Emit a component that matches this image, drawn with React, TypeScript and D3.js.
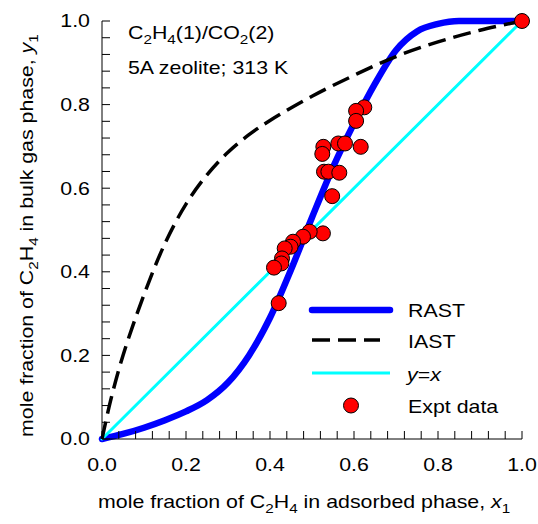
import React from "react";
import * as d3 from "d3";

const rastX = [0, 0.05, 0.1, 0.15, 0.2, 0.25, 0.3, 0.35, 0.4, 0.45, 0.5, 0.55, 0.6, 0.65, 0.7, 0.75, 0.8, 0.85, 0.9, 1];
const rastY = [0, 0.012, 0.027, 0.045, 0.066, 0.093, 0.135, 0.2, 0.29, 0.405, 0.53, 0.65, 0.755, 0.85, 0.93, 0.975, 0.993, 1, 1, 1];

const iastX = [0, 0.02, 0.05, 0.1, 0.15, 0.2, 0.25, 0.3, 0.35, 0.4, 0.5, 0.6, 0.7, 0.8, 0.9, 1];
const iastY = [0, 0.09, 0.2, 0.345, 0.468, 0.562, 0.632, 0.686, 0.728, 0.762, 0.82, 0.87, 0.915, 0.95, 0.978, 1];

const exptX = [1, 0.6245, 0.605, 0.605, 0.527, 0.5245, 0.5626, 0.5786, 0.616, 0.5286, 0.539, 0.565, 0.548, 0.526, 0.4945, 0.4786, 0.4548, 0.449, 0.435, 0.4286, 0.427, 0.4095, 0.4207];
const exptY = [1, 0.7935, 0.785, 0.761, 0.699, 0.682, 0.707, 0.707, 0.699, 0.6395, 0.6395, 0.637, 0.581, 0.492, 0.496, 0.484, 0.472, 0.46, 0.456, 0.432, 0.42, 0.41, 0.325];

const tickValues = [0, 0.2, 0.4, 0.6, 0.8, 1.0];
const minorTicks = d3.range(0, 1.0001, 0.04);

const legendLabels = ["RAST", "IAST", "y=x", "Expt data"];

const W = 538;
const H = 524;
const L = 102, R = 522, T = 21, B = 439;
const FONT = "Arial, 'Liberation Sans', Helvetica, sans-serif";
const FS = 17.5;
const SX = 1.22;
const SUB = 12.5;

const T2 = (x: number, y: number, rot = 0) =>
  `translate(${x},${y})${rot ? ` rotate(${rot})` : ""} scale(${SX},1)`;

export default function App() {
  const x = d3.scaleLinear().domain([0, 1]).range([L, R]);
  const y = d3.scaleLinear().domain([0, 1]).range([B, T]);
  const mkLine = (curve: d3.CurveFactory) =>
    d3
      .line<[number, number]>()
      .x((d) => x(d[0]))
      .y((d) => y(d[1]))
      .curve(curve);
  const rast: [number, number][] = rastX.map((v, i) => [v, rastY[i]]);
  const iast: [number, number][] = iastX.map((v, i) => [v, iastY[i]]);
  const diag: [number, number][] = [[0, 0], [1, 1]];

  return (
    <svg
      width={W}
      height={H}
      style={{ position: "absolute", left: 0, top: 0, background: "#fff" }}
      fontFamily={FONT}
    >
      {/* curves */}
      <path d={mkLine(d3.curveMonotoneX)(rast) || ""} fill="none" stroke="#0000ff" strokeWidth={6.5} strokeLinecap="round" />
      <path d={mkLine(d3.curveLinear)(diag) || ""} fill="none" stroke="#00ffff" strokeWidth={3} strokeLinecap="round" />
      <path d={mkLine(d3.curveCatmullRom.alpha(0.5))(iast) || ""} fill="none" stroke="#000" strokeWidth={3.5} strokeDasharray="18,8" />
      {exptX.map((v, i) => (
        <circle key={i} cx={x(v)} cy={y(exptY[i])} r={7.5} fill="#ff0000" stroke="#000" strokeWidth={1} />
      ))}

      {/* axes */}
      <line x1={L} y1={B} x2={R} y2={B} stroke="#000" strokeWidth={1} />
      <line x1={L} y1={B} x2={L} y2={T} stroke="#000" strokeWidth={1} />
      {minorTicks.map((t, i) => (
        <g key={i}>
          <line x1={x(t)} x2={x(t)} y1={B} y2={B - 8} stroke="#000" strokeWidth={1} />
          <line x1={L} x2={L + 8} y1={y(t)} y2={y(t)} stroke="#000" strokeWidth={1} />
        </g>
      ))}
      {tickValues.map((t, i) => (
        <g key={i} fontSize={FS} fill="#000">
          <text transform={T2(x(t), 471)} textAnchor="middle">{t.toFixed(1)}</text>
          <text transform={T2(90, y(t) + 6.3)} textAnchor="end">{t.toFixed(1)}</text>
        </g>
      ))}

      {/* axis titles */}
      <text transform={T2(98, 508)} fontSize={FS}>
        mole fraction of C<tspan fontSize={SUB} dy={5}>2</tspan>
        <tspan dy={-5}>H</tspan>
        <tspan fontSize={SUB} dy={5}>4</tspan>
        <tspan dy={-5}> in adsorbed phase, </tspan>
        <tspan fontStyle="italic">x</tspan>
        <tspan fontSize={SUB} dy={5}>1</tspan>
      </text>
      <text transform={T2(33, 437, -90)} fontSize={FS}>
        mole fraction of C<tspan fontSize={SUB} dy={5}>2</tspan>
        <tspan dy={-5}>H</tspan>
        <tspan fontSize={SUB} dy={5}>4</tspan>
        <tspan dy={-5}> in bulk gas phase, </tspan>
        <tspan fontStyle="italic">y</tspan>
        <tspan fontSize={SUB} dy={5}>1</tspan>
      </text>

      {/* annotation */}
      <text transform={T2(128, 39)} fontSize={FS}>
        C<tspan fontSize={SUB} dy={5}>2</tspan>
        <tspan dy={-5}>H</tspan>
        <tspan fontSize={SUB} dy={5}>4</tspan>
        <tspan dy={-5}>(1)/CO</tspan>
        <tspan fontSize={SUB} dy={5}>2</tspan>
        <tspan dy={-5}>(2)</tspan>
      </text>
      <text transform={T2(128, 74)} fontSize={FS}>5A zeolite; 313 K</text>

      {/* legend */}
      <line x1={312} x2={390} y1={310} y2={310} stroke="#0000ff" strokeWidth={6.5} strokeLinecap="round" />
      <line x1={312} x2={380} y1={340} y2={340} stroke="#000" strokeWidth={3.5} strokeDasharray="18,8" />
      <line x1={312} x2={390} y1={373} y2={373} stroke="#00ffff" strokeWidth={3} />
      <circle cx={351} cy={405.5} r={7.5} fill="#ff0000" stroke="#000" strokeWidth={1} />
      <g fontSize={FS}>
        <text transform={T2(408, 317)}>{legendLabels[0]}</text>
        <text transform={T2(408, 348)}>{legendLabels[1]}</text>
        <text transform={T2(407, 381)}>
          <tspan fontStyle="italic">y</tspan>=<tspan fontStyle="italic">x</tspan>
        </text>
        <text transform={T2(408, 413)}>{legendLabels[3]}</text>
      </g>
    </svg>
  );
}
